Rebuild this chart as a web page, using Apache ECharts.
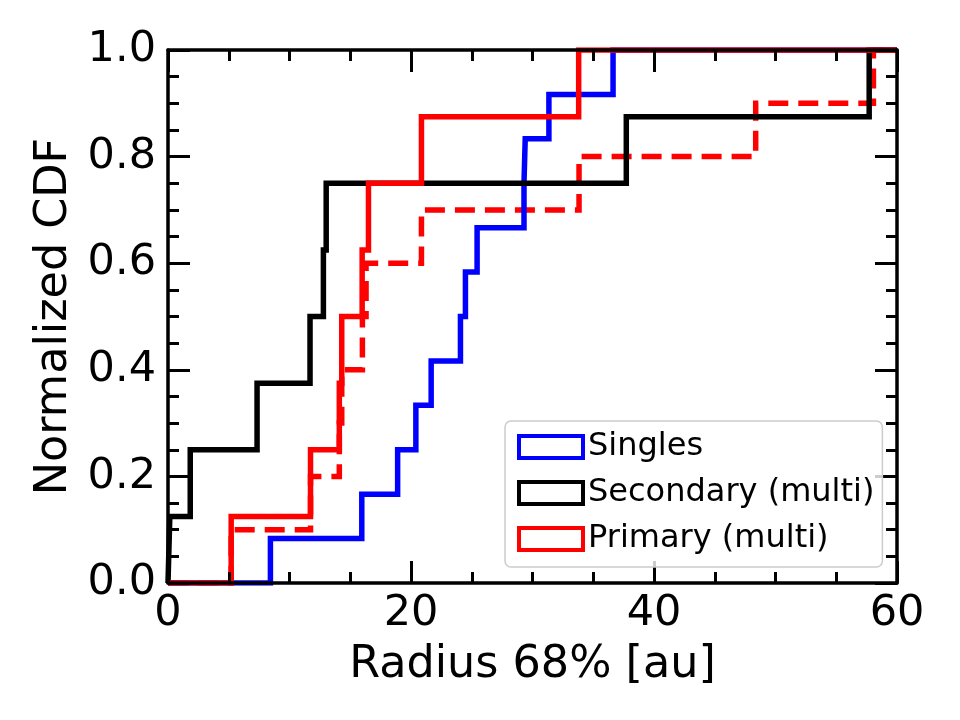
<!DOCTYPE html>
<html>
<head>
<meta charset="utf-8">
<script src="https://cdn.jsdelivr.net/npm/echarts@6/dist/echarts.min.js"></script>
<style>
  html, body { margin: 0; padding: 0; background: #fff; }
  #cdf { width: 960px; height: 720px; }
</style>
</head>
<body>
<div id="cdf"></div>
<script>
// radius (au) at which each CDF steps up
const singles = [8.43, 15.95, 18.9, 20.4, 21.66, 24.07, 24.48, 25.44, 29.3, 29.4, 31.35, 36.63];
const secondary = [0.15, 1.83, 7.33, 11.69, 12.79, 13.02, 37.72, 57.71];
const primary = [5.2, 11.73, 14.1, 14.3, 15.98, 16.5, 20.86, 33.8];
const primaryDashed = [5.2, 11.73, 14.1, 14.3, 16.0, 16.3, 20.86, 33.83, 48.37, 58.06];

const xTicks = [0, 20, 40, 60];
const yTicks = ['0.0', '0.2', '0.4', '0.6', '0.8', '1.0'];

const xMax = 60;
const font = 'DejaVu Sans';

// turn the sorted radii into the outline of a cumulative step histogram
function stepCdf(vals) {
  const n = vals.length;
  const pts = [[0, 0]];
  vals.forEach((v, i) => {
    pts.push([v, i / n]);
    pts.push([v, (i + 1) / n]);
  });
  pts.push([xMax, 1]);
  return pts;
}

function lineSeries(name, vals, color, dashed) {
  return {
    name: name,
    type: 'line',
    data: stepCdf(vals),
    showSymbol: false,
    symbol: 'none',
    color: color,
    lineStyle: { color: color, width: 5.5, type: dashed ? [20, 10] : 'solid', cap: 'butt', join: 'miter' },
    z: 2
  };
}

function xAx(pos) {
  return {
    type: 'value', position: pos, min: 0, max: xMax, interval: 20, z: 10,
    axisLine: { show: true, onZero: false, lineStyle: { color: '#000', width: 3.5 } },
    axisTick: { show: true, inside: true, length: 22, lineStyle: { color: '#000', width: 3 } },
    minorTick: { show: true, splitNumber: 4, length: 11, lineStyle: { color: '#000', width: 3 } },
    axisLabel: {
      show: pos === 'bottom', color: '#000', fontSize: 43, fontFamily: font, margin: 9,
      formatter: v => (xTicks.includes(v) ? String(v) : '')
    },
    splitLine: { show: false },
    name: pos === 'bottom' ? 'Radius 68% [au]' : '',
    nameLocation: 'middle', nameGap: 60,
    nameTextStyle: { color: '#000', fontSize: 44.5, fontFamily: font }
  };
}

function yAx(pos) {
  return {
    type: 'value', position: pos, min: 0, max: 1, interval: 0.2, z: 10,
    axisLine: { show: true, onZero: false, lineStyle: { color: '#000', width: 3.5 } },
    axisTick: { show: true, inside: true, length: 22, lineStyle: { color: '#000', width: 3 } },
    minorTick: { show: true, splitNumber: 4, length: 11, lineStyle: { color: '#000', width: 3 } },
    axisLabel: {
      show: pos === 'left', color: '#000', fontSize: 43, fontFamily: font, margin: 12,
      formatter: v => yTicks[Math.round(v / 0.2)]
    },
    splitLine: { show: false },
    name: pos === 'left' ? 'Normalized CDF' : '',
    nameLocation: 'middle', nameGap: 91,
    nameTextStyle: { color: '#000', fontSize: 44.5, fontFamily: font }
  };
}

function legendItem(name, color) {
  return { name: name, itemStyle: { color: '#fff', borderColor: color, borderWidth: 4 } };
}

const chart = echarts.init(document.getElementById('cdf'), null, { renderer: 'canvas' });
const option = {
  animation: false,
  backgroundColor: '#fff',
  grid: { left: 168, right: 63, top: 50, bottom: 137, containLabel: false, outerBoundsMode: 'none' },
  xAxis: [xAx('bottom'), xAx('top')],
  yAxis: [yAx('left'), yAx('right')],
  legend: {
    left: 505, top: 421, orient: 'vertical', z: 20,
    icon: 'rect', itemWidth: 64, itemHeight: 22, itemGap: 14,
    padding: [10, 8, 12, 12],
    backgroundColor: 'rgba(255,255,255,0.8)', borderColor: '#cccccc', borderWidth: 1.5, borderRadius: 6,
    textStyle: { color: '#000', fontSize: 32, fontFamily: font, lineHeight: 32 },
    data: [legendItem('Singles', '#0000ff'), legendItem('Secondary (multi)', '#000000'), legendItem('Primary (multi)', '#ff0000')]
  },
  series: [
    lineSeries('Primary (multi) dashed', primaryDashed, '#ff0000', true),
    lineSeries('Singles', singles, '#0000ff', false),
    lineSeries('Secondary (multi)', secondary, '#000000', false),
    lineSeries('Primary (multi)', primary, '#ff0000', false)
  ]
};
chart.setOption(option);
</script>
</body>
</html>
